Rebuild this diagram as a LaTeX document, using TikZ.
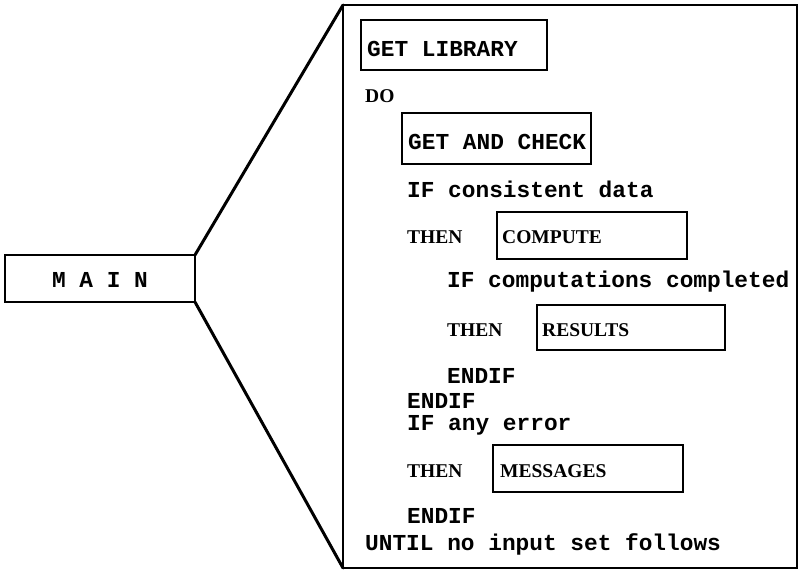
\documentclass[tikz,border=0pt]{standalone}
\usepackage{fontspec}
\setmainfont{Liberation Serif}
\newfontfamily\codefont{Liberation Mono}
\newcommand{\monotext}{\codefont\bfseries\fontsize{22.8}{26}\selectfont}
\newcommand{\wordtext}{\rmfamily\bfseries\fontsize{19.5}{22}\selectfont}
\tikzset{
  pseudo/.style={anchor=base west, inner sep=0pt, font=\monotext},
  keyword/.style={anchor=base west, inner sep=0pt, font=\wordtext},
  modbox/.style={draw, line width=2.6pt, anchor=north west, outer sep=0pt,
    inner sep=0pt},
  panel/.style={draw, line width=2.4pt, anchor=north west, outer sep=0pt,
    inner sep=0pt},
  link/.style={line width=3pt, line cap=round}
}
\begin{document}
\begin{tikzpicture}[x=1pt, y=-1pt]
  \useasboundingbox (0,0) rectangle (801,570);

  % main module and its expansion panel
  \node[modbox, minimum width=190pt, minimum height=47pt] (main) at (5,255) {};
  \node[pseudo, anchor=base] (mainlabel) at (100,287) {M A I N};
  \node[panel, minimum width=454pt, minimum height=563pt] (frame) at (343,5) {};
  \draw[link] (main.north east) -- (frame.north west);
  \draw[link] (main.south east) -- (frame.south west);

  % called modules
  \node[modbox, minimum width=186pt, minimum height=50pt] (lib) at (361,20) {};
  \node[pseudo] (liblabel) at (367,56) {GET LIBRARY};
  \node[modbox, minimum width=189pt, minimum height=51pt] (check) at (402,113) {};
  \node[pseudo] (checklabel) at (408,149) {GET AND CHECK};
  \node[modbox, minimum width=190pt, minimum height=47pt] (compute) at (497,212) {};
  \node[keyword] (computelabel) at (502,243) {COMPUTE};
  \node[modbox, minimum width=188pt, minimum height=45pt] (results) at (537,305) {};
  \node[keyword] (resultslabel) at (542,336) {RESULTS};
  \node[modbox, minimum width=190pt, minimum height=47pt] (messages) at (493,445) {};
  \node[keyword] (messageslabel) at (500,477) {MESSAGES};

  % control structure
  \node[keyword] (do)      at (365,102) {DO};
  \node[pseudo]  (ifdata)  at (407,197) {IF consistent data};
  \node[keyword] (then1)   at (407,243) {THEN};
  \node[pseudo]  (ifcomp)  at (447,287) {IF computations completed};
  \node[keyword] (then2)   at (447,336) {THEN};
  \node[pseudo]  (endif1)  at (447,383) {ENDIF};
  \node[pseudo]  (endif2)  at (407,408) {ENDIF};
  \node[pseudo]  (iferr)   at (407,430) {IF any error};
  \node[keyword] (then3)   at (407,477) {THEN};
  \node[pseudo]  (endif3)  at (407,523) {ENDIF};
  \node[pseudo]  (until)   at (365,550) {UNTIL no input set follows};
\end{tikzpicture}
\end{document}
